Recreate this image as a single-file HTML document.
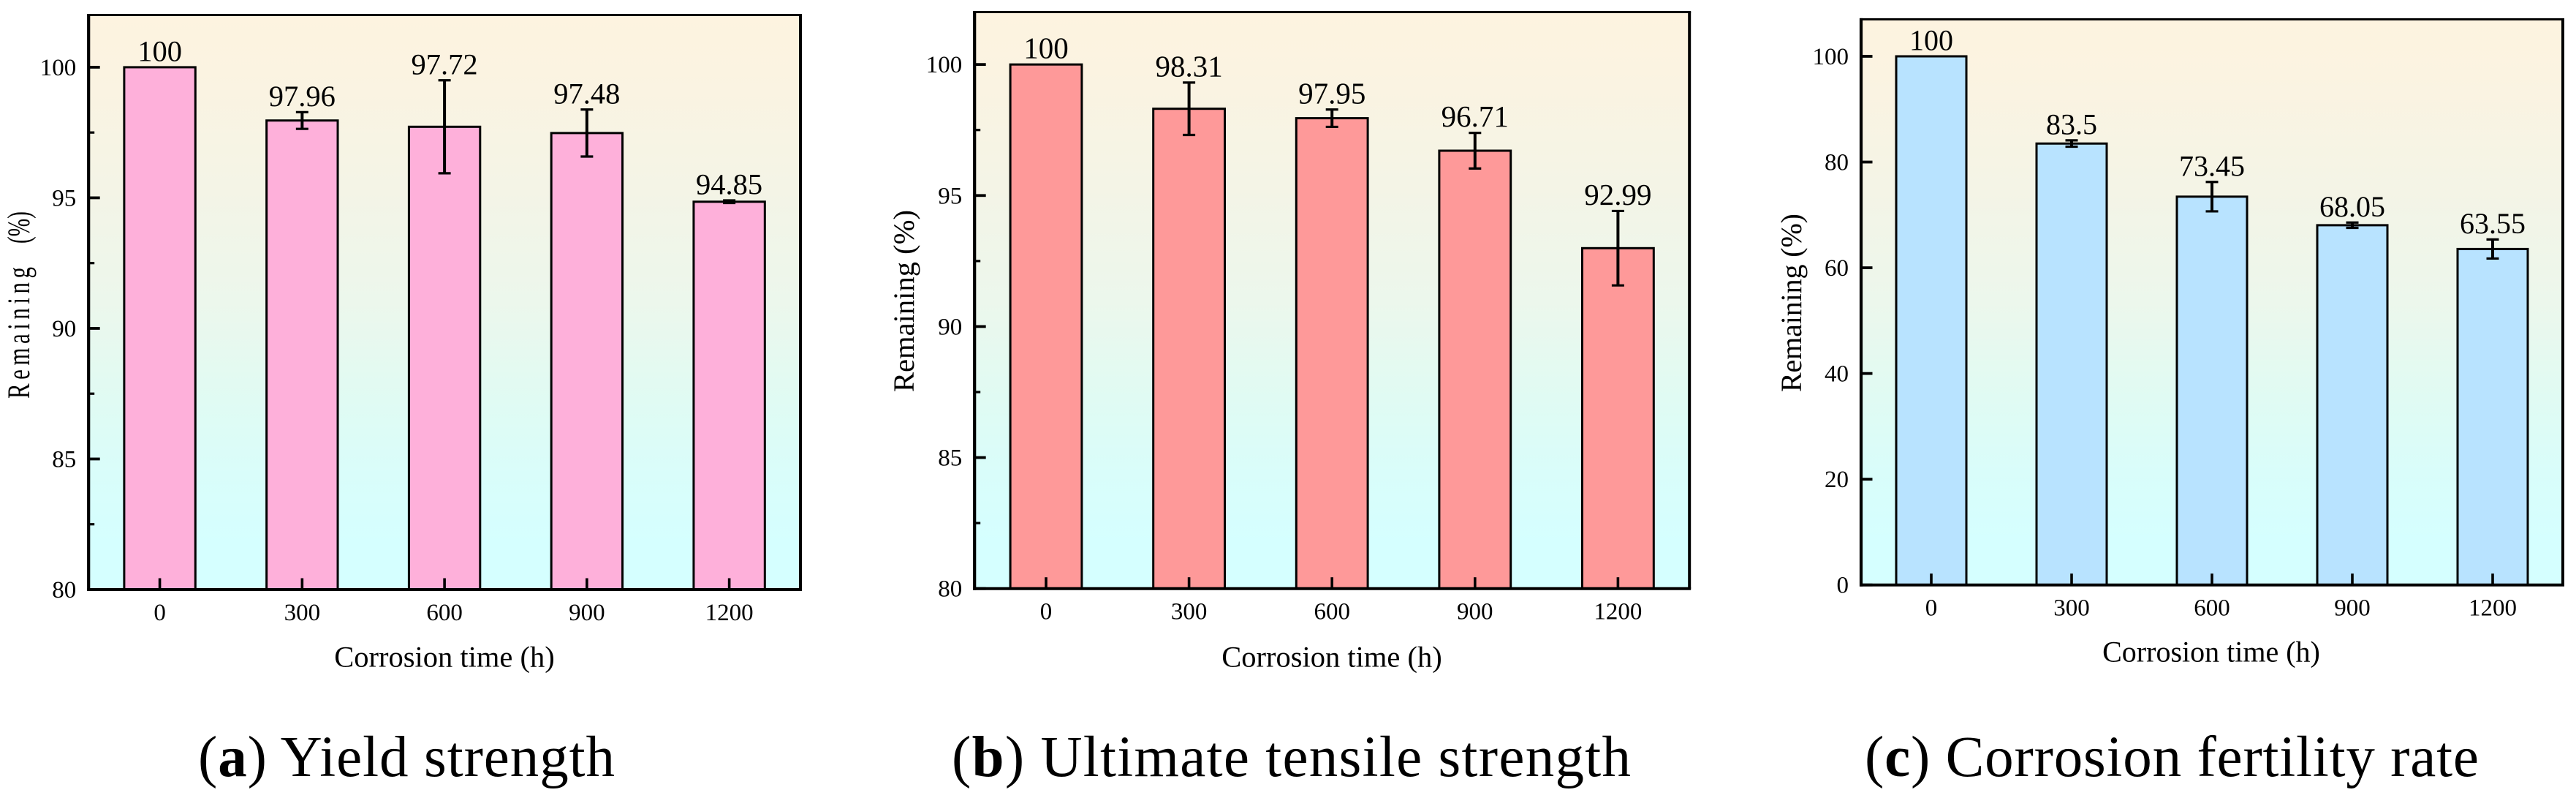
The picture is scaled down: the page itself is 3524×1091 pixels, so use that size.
<!DOCTYPE html>
<html lang="en">
<head>
<meta charset="utf-8">
<title>Remaining properties versus corrosion time</title>
<style>
html,body{margin:0;padding:0;background:#fff;width:3524px;height:1091px;overflow:hidden}
svg{display:block}
text{font-family:"Liberation Serif",serif;fill:#000}
</style>
</head>
<body>
<svg id="figure" xmlns="http://www.w3.org/2000/svg" width="3524" height="1091" viewBox="0 0 3524 1091">
  <defs>
    <linearGradient id="plotBg" x1="0" y1="0" x2="0" y2="1">
      <stop offset="0" stop-color="#fdf3e0"/>
      <stop offset="0.1" stop-color="#fbf3e1"/>
      <stop offset="0.3" stop-color="#f4f4e6"/>
      <stop offset="0.5" stop-color="#ecf7ec"/>
      <stop offset="0.67" stop-color="#e0fbf3"/>
      <stop offset="0.8" stop-color="#d9fdfa"/>
      <stop offset="0.92" stop-color="#d5ffff"/>
      <stop offset="1" stop-color="#d5ffff"/>
    </linearGradient>
  </defs>
  <g id="panel-a"></g>
  <g id="panel-b"></g>
  <g id="panel-c"></g>

  <text transform="translate(40 545) rotate(-90) scale(0.72 1)" font-size="43" textLength="250" lengthAdjust="spacing">Remaining</text>
  <text transform="translate(40 333) rotate(-90) scale(0.68 1)" font-size="43">(%)</text>
  <text transform="translate(1250 536) rotate(-90)" font-size="40.5" textLength="249" lengthAdjust="spacing">Remaining (%)</text>
  <text transform="translate(2464 536) rotate(-90)" font-size="40" textLength="244" lengthAdjust="spacing">Remaining (%)</text>

  <text x="608" y="911.5" font-size="40.5" text-anchor="middle">Corrosion time (h)</text>
  <text x="1822" y="911.5" font-size="40.5" text-anchor="middle">Corrosion time (h)</text>
  <text x="3025" y="904.5" font-size="40" text-anchor="middle">Corrosion time (h)</text>

  <text x="271" y="1061" font-size="79" textLength="570" lengthAdjust="spacing">(<tspan font-weight="bold">a</tspan>) Yield strength</text>
  <text x="1302" y="1061" font-size="79" textLength="929" lengthAdjust="spacing">(<tspan font-weight="bold">b</tspan>) Ultimate tensile strength</text>
  <text x="2551" y="1061" font-size="79" textLength="840" lengthAdjust="spacing">(<tspan font-weight="bold">c</tspan>) Corrosion fertility rate</text>
</svg>
<script>
var categories = ['0', '300', '600', '900', '1200'];
var yieldValues = [100, 97.96, 97.72, 97.48, 94.85];
var yieldErrors = [0, 0.32, 1.78, 0.9, 0.05];
var tensileValues = [100, 98.31, 97.95, 96.71, 92.99];
var tensileErrors = [0, 1, 0.33, 0.68, 1.42];
var fertilityValues = [100, 83.5, 73.45, 68.05, 63.55];
var fertilityErrors = [0, 0.6, 2.78, 0.5, 1.8];
var strengthTicks = [80, 85, 90, 95, 100];
var strengthMinorTicks = [82.5, 87.5, 92.5, 97.5];
var fertilityTicks = [0, 20, 40, 60, 80, 100];
var fertilityMinorTicks = [];

var NS = 'http://www.w3.org/2000/svg';

function mk(parent, tag, attrs, content) {
  var node = document.createElementNS(NS, tag);
  for (var k in attrs) { node.setAttribute(k, attrs[k]); }
  if (content !== undefined) { node.textContent = content; }
  parent.appendChild(node);
  return node;
}

function drawPanel(cfg) {
  var g = document.getElementById(cfg.id);
  var n = cfg.values.length;
  var step = (cfg.right - cfg.left) / n;
  var barW = step / 2;
  function xPos(i) { return cfg.left + step * (i + 0.5); }
  function yPos(v) { return cfg.bottom - (v - cfg.yMin) * (cfg.bottom - cfg.top) / (cfg.yMax - cfg.yMin); }

  var bg = mk(g, 'rect', { x: cfg.left, y: cfg.top, width: cfg.right - cfg.left, height: cfg.bottom - cfg.top, fill: 'url(#plotBg)' });
  
  

  cfg.values.forEach(function (v, i) {
    var bar = mk(g, 'rect', { x: xPos(i) - barW / 2, y: yPos(v), width: barW, height: yPos(cfg.yMin) - yPos(v), fill: cfg.color, stroke: '#000', 'stroke-width': 3 });
    
    
  });

  cfg.values.forEach(function (v, i) {
    var err = cfg.errors[i];
    if (err > 0) {
      var stem = mk(g, 'line', { x1: xPos(i), x2: xPos(i), y1: yPos(v + err), y2: yPos(v - err), stroke: '#000', 'stroke-width': 4 });
      
      
      var capTop = mk(g, 'line', { x1: xPos(i) - 8.5, x2: xPos(i) + 8.5, y1: yPos(v + err), y2: yPos(v + err), stroke: '#000', 'stroke-width': 3.2 });
      
      
      var capBottom = mk(g, 'line', { x1: xPos(i) - 8.5, x2: xPos(i) + 8.5, y1: yPos(v - err), y2: yPos(v - err), stroke: '#000', 'stroke-width': 3.2 });
      
      
    }
    var label = mk(g, 'text', { x: xPos(i), y: yPos(v + err) - 8.5, 'font-size': cfg.labelSize, 'text-anchor': 'middle' }, String(v));
    
    
  });

  cfg.yTicks.forEach(function (t) {
    var tick = mk(g, 'line', { x1: cfg.left, x2: cfg.left + 15.5, y1: yPos(t), y2: yPos(t), stroke: '#000', 'stroke-width': 3.8 });
    
    
    var label = mk(g, 'text', { x: cfg.left - 17, y: yPos(t) + 11, 'font-size': 33, 'text-anchor': 'end' }, String(t));
    
    
  });

  cfg.yMinor.forEach(function (t) {
    var tick = mk(g, 'line', { x1: cfg.left, x2: cfg.left + 8, y1: yPos(t), y2: yPos(t), stroke: '#000', 'stroke-width': 3.2 });
    
    
  });

  categories.forEach(function (c, i) {
    var tick = mk(g, 'line', { x1: xPos(i), x2: xPos(i), y1: cfg.bottom, y2: cfg.bottom - 15.5, stroke: '#000', 'stroke-width': 3.6 });
    
    
    var label = mk(g, 'text', { x: xPos(i), y: cfg.bottom + 41.8, 'font-size': 33, 'text-anchor': 'middle' }, c);
    
    
  });

  var axisTop = mk(g, 'line', { x1: cfg.left - 2, x2: cfg.right + 2, y1: cfg.top, y2: cfg.top, stroke: '#000', 'stroke-width': 3 });
  
  
  var axisRight = mk(g, 'line', { x1: cfg.right, x2: cfg.right, y1: cfg.top, y2: cfg.bottom, stroke: '#000', 'stroke-width': 4 });
  
  
  var axisLeft = mk(g, 'line', { x1: cfg.left, x2: cfg.left, y1: cfg.top - 1.5, y2: cfg.bottom + 2, stroke: '#000', 'stroke-width': 4.2 });
  
  
  var axisBottom = mk(g, 'line', { x1: cfg.left - 2, x2: cfg.right + 2, y1: cfg.bottom, y2: cfg.bottom, stroke: '#000', 'stroke-width': 4 });
  
  
}

drawPanel({ id: 'panel-a', left: 121.2, right: 1095, top: 20.5, bottom: 806, yMin: 80, yMax: 102, color: '#feb0da', labelSize: 40.5, values: yieldValues, errors: yieldErrors, yTicks: strengthTicks, yMinor: strengthMinorTicks });
drawPanel({ id: 'panel-b', left: 1333.2, right: 2311.2, top: 16.5, bottom: 804.7, yMin: 80, yMax: 102, color: '#fe9999', labelSize: 41, values: tensileValues, errors: tensileErrors, yTicks: strengthTicks, yMinor: strengthMinorTicks });
drawPanel({ id: 'panel-c', left: 2546, right: 3506, top: 26.4, bottom: 799.7, yMin: 0, yMax: 107, color: '#b8e3ff', labelSize: 40, values: fertilityValues, errors: fertilityErrors, yTicks: fertilityTicks, yMinor: fertilityMinorTicks });
</script>
</body>
</html>
